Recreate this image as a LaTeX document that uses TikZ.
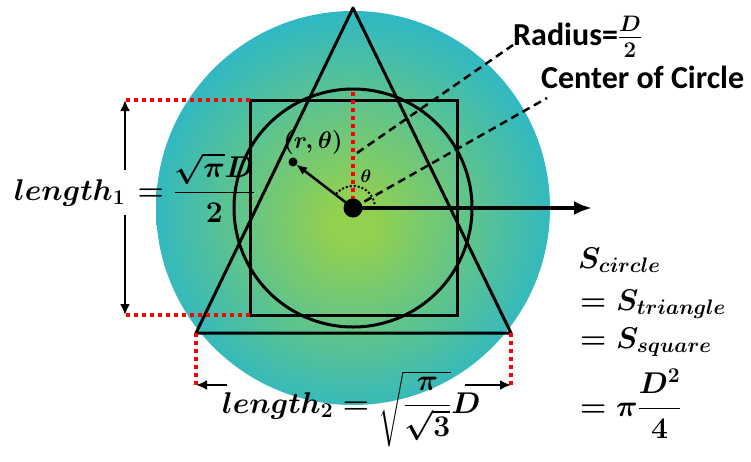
\RequirePackage{fix-cm}
\documentclass[tikz,border=0pt]{standalone}
\usepackage{amsmath}
\usepackage{fontspec}
\newfontfamily\calfont{Carlito}
\usepackage{xcolor}
\usetikzlibrary{arrows.meta}
\usetikzlibrary{math, calc, positioning}

\definecolor{discgreen}{HTML}{92D050}
\definecolor{discteal}{HTML}{2FB8C4}
\pgfdeclareradialshading{discshade}{\pgfpoint{0bp}{-2bp}}{color(0bp)=(discgreen); color(3bp)=(discgreen); color(26bp)=(discteal); color(50bp)=(discteal)}

\begin{document}
\begin{tikzpicture}[x=1pt,y=-1pt,
  shapeline/.style={line width=3},
  reddots/.style={red, line width=4, dash pattern=on 4pt off 4pt},
  leader/.style={line width=2.5, dash pattern=on 8pt off 5pt},
  dimarrow/.style={line width=2.5, -{Latex[length=11pt,width=10pt]}},
  mathlbl/.style={font=\boldmath\fontsize{30}{36}\selectfont, inner sep=0},
  txtlbl/.style={font=\calfont\bfseries\boldmath\fontsize{32}{36}\selectfont, inner sep=0}]
\tikzmath{
\Rdisc=197;
\Rin=119;
}
\useasboundingbox (0,0) rectangle (751,461);

\coordinate (O) at (353,208);
\coordinate (apex) at (353,8);
\coordinate (BL) at (196,333);
\coordinate (BR) at (511,333);
\coordinate (sqTL) at (250,100);
\coordinate (sqBL) at (250,315);
\coordinate (sqBR) at (457,315);
\coordinate (ctop) at (353,89);

\shade[shading=discshade] (O) circle (\Rdisc);

\draw[shapeline] (O) circle (\Rin);
\draw[shapeline] (sqTL) rectangle (sqBR);
\draw[shapeline, line join=round] (apex) -- (BL) -- (BR) -- cycle;

\coordinate (L1top) at (125,100);
\coordinate (L1bot) at (125,315);
\coordinate (L2left) at (196,385);
\coordinate (L2right) at (511,385);
\draw[reddots] (sqTL) -- (L1top);
\draw[reddots] (sqBL) -- (L1bot);
\draw[reddots] (O) -- (ctop);
\draw[reddots] (BL) -- (L2left);
\draw[reddots] (BR) -- (L2right);

\node[mathlbl, anchor=base west, inner ysep=9pt] (len1) at (14,200) {$length_1$};
\node[mathlbl, anchor=base west] (len1val) at ([xshift=12pt]len1.base east) {$=\dfrac{\sqrt{\pi}D}{2}$};
\draw[dimarrow] (len1.north -| L1top) -- (L1top);
\draw[dimarrow] (len1.south -| L1bot) -- (L1bot);

\node[mathlbl, anchor=base west] (len2) at (222,413) {$length_2=\sqrt{\dfrac{\pi\rule{0pt}{14pt}}{\sqrt{3}\rule[-8pt]{0pt}{8pt}}}D$};
\coordinate (L2a) at (227,385);
\coordinate (L2b) at (465,385);
\draw[dimarrow] (L2a) -- (L2left);
\draw[dimarrow] (L2b) -- (L2right);

\node[txtlbl, anchor=base west] (radlbl) at (513,45) {Radius=$\frac{D}{2}$};
\node[txtlbl, anchor=base west] (ctrlbl) at (541,88) {Center of Circle};
\coordinate (rmark) at (357,153);
\draw[leader] (rmark) -- (radlbl.base west);
\draw[leader] (O) -- ([shift={(6,10)}]ctrlbl.base west);

\coordinate (rth) at (293,162);
\draw[line width=2.5, -{Latex[length=11pt,width=9pt]}, shorten >=4pt] (O) -- (rth);
\fill (rth) circle (4.5);
\node[font=\boldmath\fontsize{24}{28}\selectfont, inner sep=0] (rthlbl) at (313,142) {$(r,\theta)$};

\draw[line width=2, dash pattern=on 2pt off 2pt] ([shift={(-10:22)}]O) arc[start angle=-10, end angle=-140, radius=22];
\node[font=\boldmath\fontsize{18}{22}\selectfont, inner sep=0] (thlbl) at (366,176) {$\theta$};

\coordinate (xend) at (592,208);
\draw[line width=4, -{Latex[length=18pt,width=14pt]}] (O) -- (xend);
\fill (O) circle (9.5);

\node[mathlbl, anchor=base west] (Scirc) at (578,268) {$S_{circle}$};
\node[mathlbl, anchor=base west] (Stri) at (580,310) {$=S_{triangle}$};
\node[mathlbl, anchor=base west] (Ssq) at (580,348) {$=S_{square}$};
\node[mathlbl, anchor=base west] (Sval) at (580,416) {$=\pi\dfrac{D^2}{4}$};
\end{tikzpicture}
\end{document}
